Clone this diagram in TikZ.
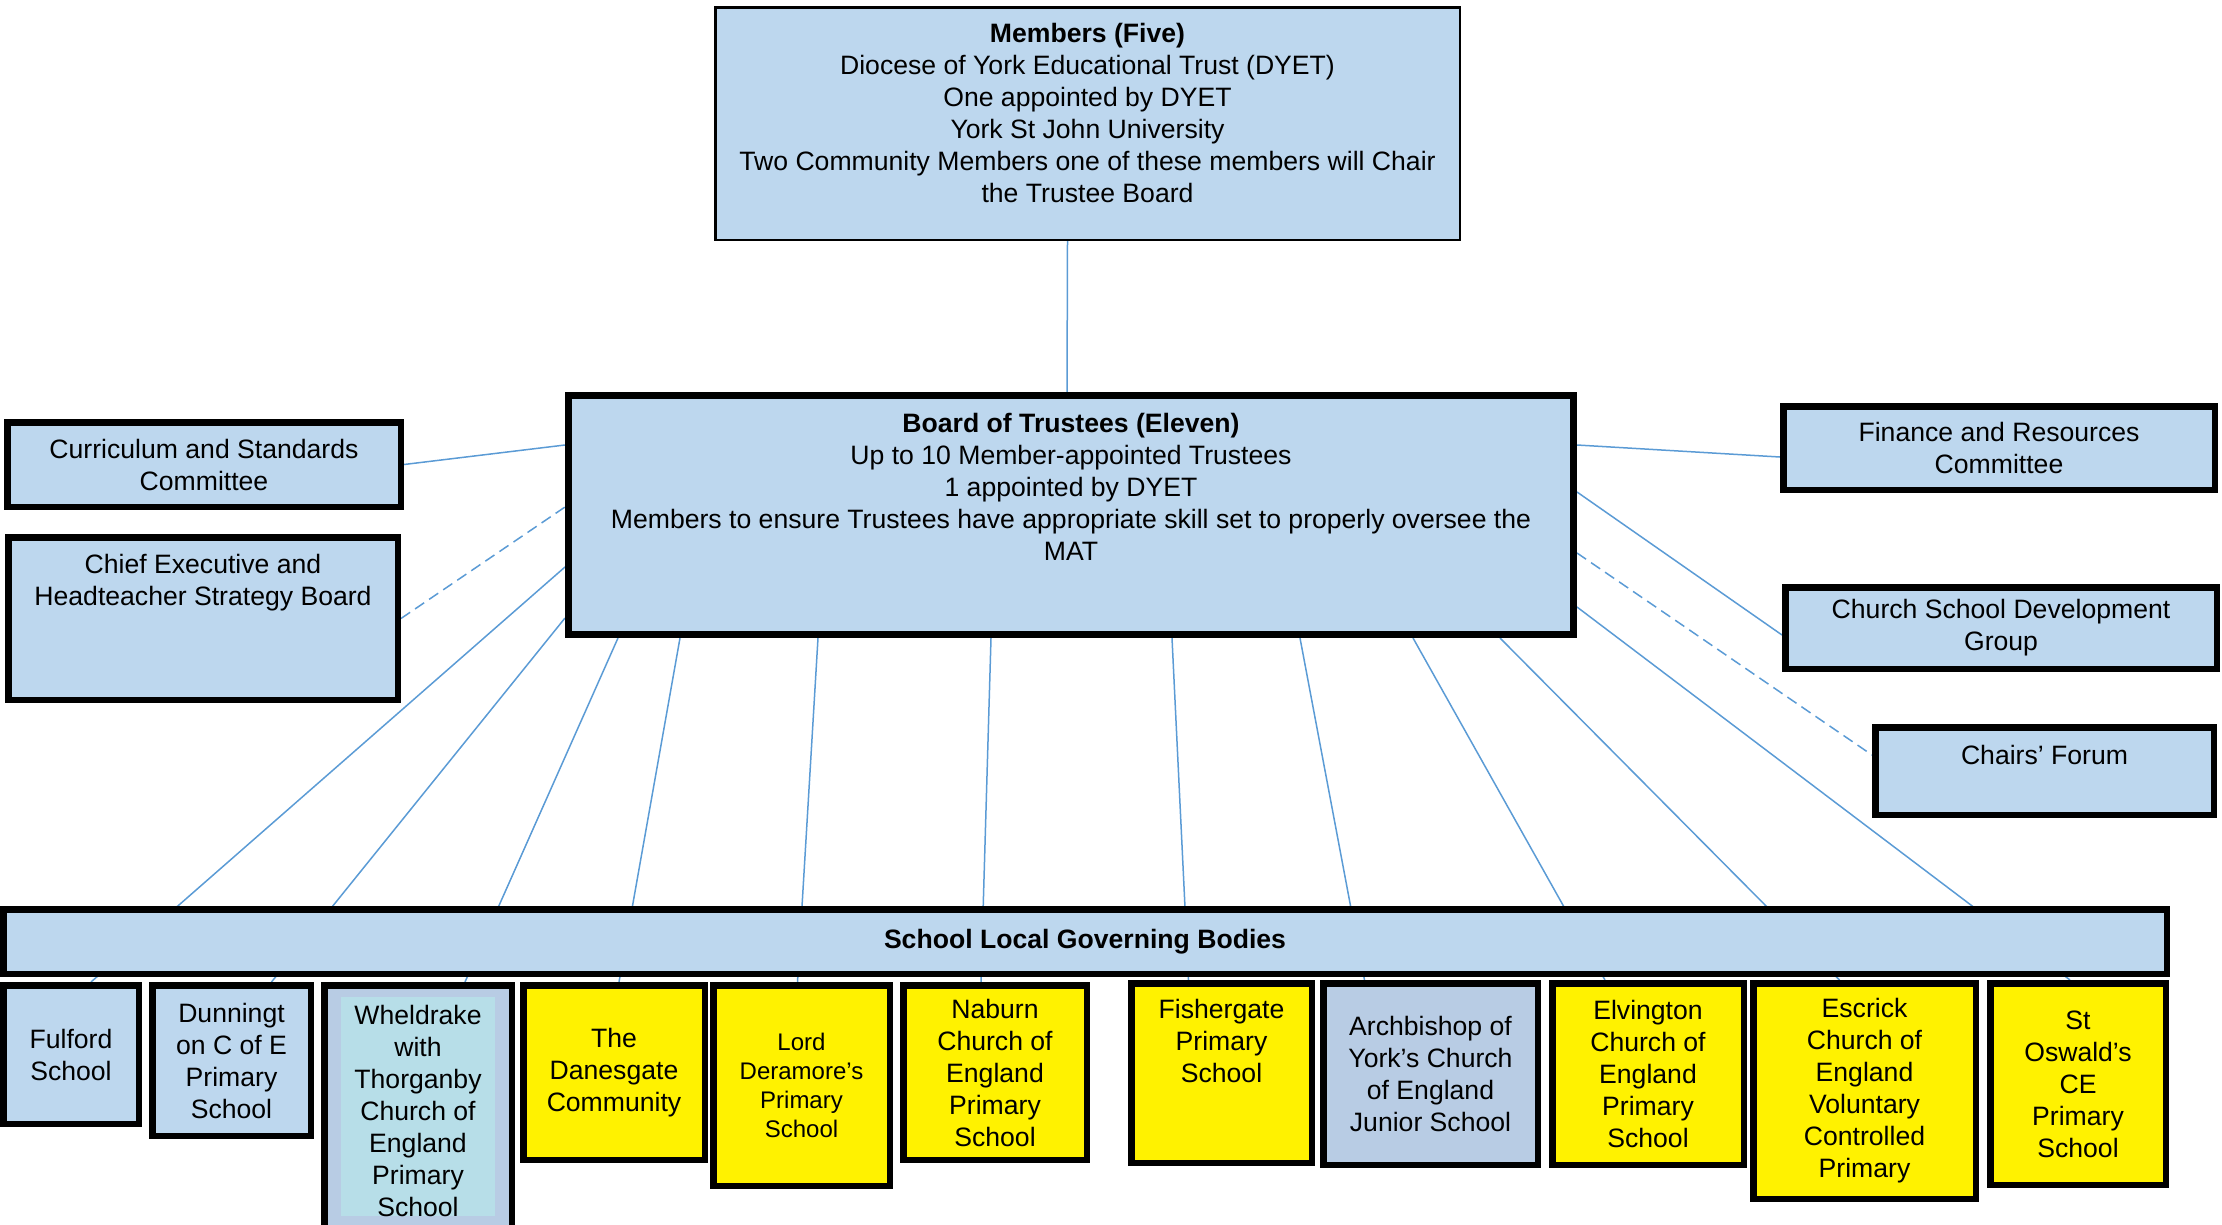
\documentclass[tikz,border=0pt]{standalone}
\usepackage{fontspec}
\setmainfont{Liberation Sans}
\definecolor{boxblue}{HTML}{BDD7EE}
\definecolor{greyblue}{HTML}{B8CCE4}
\definecolor{panelblue}{HTML}{B7DEE8}
\definecolor{linkblue}{HTML}{5B9BD5}
\pgfdeclarelayer{background}
\pgfsetlayers{background,main}

\begin{document}
\begin{tikzpicture}[x=1pt,y=-1pt,
    font=\fontsize{26.6}{32}\selectfont,
    box/.style={draw,line width=6.5pt,fill=boxblue,align=center,inner sep=2pt,anchor=north west},
    yellowbox/.style={box,fill=yellow},
    link/.style={draw=linkblue,line width=1.5pt},
    linkdash/.style={link,dash pattern=on 11pt off 6pt}]
  \useasboundingbox (0,0) rectangle (2222,1224);

  \node[box,line width=2.5pt,minimum width=744.5pt,minimum height=232.5pt,text depth=22pt] (mem) at (714,6)
    {\textbf{Members (Five)}\\Diocese of York Educational Trust (DYET)\\One appointed by DYET\\York St John University\\Two Community Members one of these members will Chair\\the Trustee Board};
  \node[box,line width=7pt,minimum width=1005pt,minimum height=239pt,text depth=56pt] (board) at (565,392)
    {\textbf{Board of Trustees (Eleven)}\\Up to 10 Member-appointed Trustees\\1 appointed by DYET\\Members to ensure Trustees have appropriate skill set to properly oversee the\\MAT};

  \node[box,minimum width=393.5pt,minimum height=84.5pt] (cur) at (4,419) {Curriculum and Standards\\Committee};
  \node[box,minimum width=389.5pt,minimum height=162.5pt,text depth=78pt] (ceo) at (5,534) {Chief Executive and\\Headteacher Strategy Board};
  \node[box,minimum width=431.5pt,minimum height=83.5pt] (fin) at (1780,403) {Finance and Resources\\Committee};
  \node[box,minimum width=431.5pt,minimum height=81.5pt] (csdg) at (1782,584) {Church School Development\\Group};
  \node[box,minimum width=338.5pt,minimum height=87.5pt,text depth=32pt] (chairs) at (1872,724) {Chairs’ Forum};

  \node[box,minimum width=2163.5pt,minimum height=64.5pt] (slgb) at (0,906) {\textbf{School Local Governing Bodies}};

  \node[box,minimum width=135.5pt,minimum height=138.5pt] (s1) at (0,982) {Fulford\\School};
  \node[box,minimum width=158.5pt,minimum height=150.5pt] (s2) at (149,982) {Dunningt\\on C of E\\Primary\\School};
  \node[box,fill=greyblue,minimum width=187.5pt,minimum height=251.5pt,
    path picture={\fill[panelblue] ([shift={(17pt,-12pt)}]path picture bounding box.north west) rectangle ++(154pt,-219pt);}] (s3) at (321,982)
    {Wheldrake\\with\\Thorganby\\Church of\\England\\Primary\\School};
  \node[yellowbox,minimum width=181.5pt,minimum height=174.5pt] (s4) at (520,982) {The\\Danesgate\\Community};
  \node[yellowbox,minimum width=176.5pt,minimum height=200.5pt,font=\fontsize{24}{29}\selectfont] (s5) at (710,982) {Lord\\Deramore’s\\Primary\\School};
  \node[yellowbox,minimum width=183.5pt,minimum height=174.5pt] (s6) at (900,982) {Naburn\\Church of\\England\\Primary\\School};
  \node[yellowbox,minimum width=180.5pt,minimum height=179.5pt,text depth=64pt] (s7) at (1128,980) {Fishergate\\Primary\\School};
  \node[box,fill=greyblue,minimum width=214.5pt,minimum height=181.5pt] (s8) at (1320,980) {Archbishop of\\York’s Church\\of England\\Junior School};
  \node[yellowbox,minimum width=191.5pt,minimum height=181.5pt] (s9) at (1549,980) {Elvington\\Church of\\England\\Primary\\School};
  \node[yellowbox,minimum width=222.5pt,minimum height=215.5pt] (s10) at (1750,980) {Escrick\\Church of\\England\\Voluntary\\Controlled\\Primary};
  \node[yellowbox,minimum width=175.5pt,minimum height=201.5pt] (s11) at (1987,980) {St\\Oswald’s\\CE\\Primary\\School};

  \begin{pgfonlayer}{background}
    \draw[link] ([xshift=-20pt]mem.south) -- ([xshift=-4pt]board.north);
    \draw[link] (cur.east) -- ([yshift=70pt]board.west);
    \draw[linkdash] (ceo.east) -- ([yshift=8pt]board.west);
    \draw[link] ([yshift=70pt]board.east) -- ([yshift=-9pt]fin.west);
    \draw[link] ([yshift=23pt]board.east) -- ([yshift=-7pt]csdg.west);
    \draw[linkdash] ([yshift=-38pt]board.east) -- ([yshift=16pt]chairs.west);

    \draw[link] ([yshift=-52pt]board.west) -- ([xshift=20pt]s1.north);
    \draw[link] ([yshift=-103pt]board.west) -- ([xshift=40pt]s2.north);
    \draw[link] ([xshift=-453pt]board.south) -- ([xshift=47pt]s3.north);
    \draw[link] ([xshift=-391pt]board.south) -- ([xshift=5pt]s4.north);
    \draw[link] ([xshift=-253pt]board.south) -- ([xshift=-4pt]s5.north);
    \draw[link] ([xshift=-80pt]board.south) -- ([xshift=-14pt]s6.north);
    \draw[link] ([xshift=101pt]board.south) -- ([xshift=-33pt]s7.north);
    \draw[link] ([xshift=229pt]board.south) -- ([xshift=-66pt]s8.north);
    \draw[link] ([xshift=342pt]board.south) -- ([xshift=-43pt]s9.north);
    \draw[link] ([xshift=429pt]board.south) -- ([xshift=-25pt]s10.north);
    \draw[link] ([yshift=-92pt]board.east) -- ([xshift=-8pt]s11.north);
  \end{pgfonlayer}
\end{tikzpicture}
\end{document}
